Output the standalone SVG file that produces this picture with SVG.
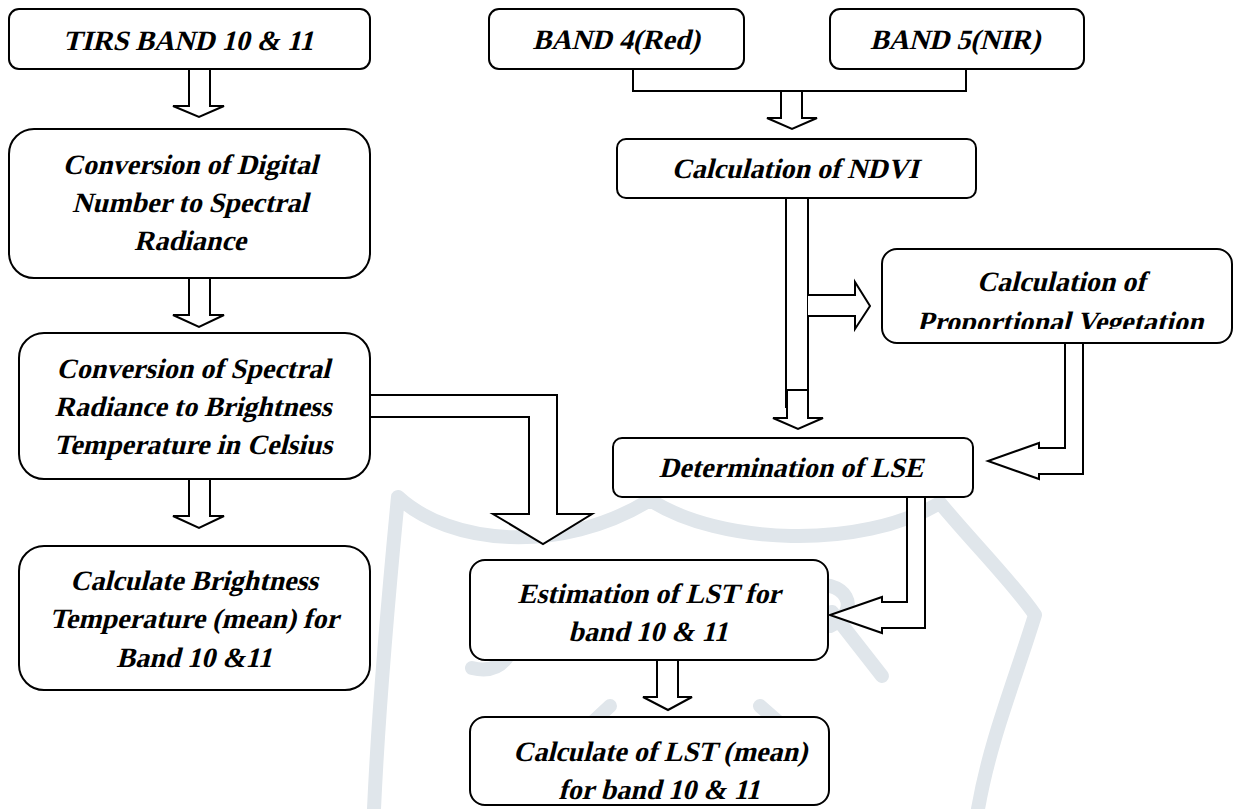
<svg xmlns="http://www.w3.org/2000/svg" width="1234" height="809" viewBox="0 0 1234 809">
<style>
.box{fill:#fff;stroke:#000;stroke-width:2}
.arr{fill:#fff;stroke:#000;stroke-width:2;stroke-linejoin:miter}
.ln{fill:none;stroke:#000;stroke-width:2}
.wm{fill:none;stroke:#e0e6eb;stroke-width:14;stroke-linecap:round;stroke-linejoin:round}
text{font-family:"Liberation Serif","Times New Roman",serif;font-weight:bold;font-style:normal;font-size:28px;text-anchor:middle;fill:#000}
</style>
<defs>
<clipPath id="pvclip"><rect x="882" y="249" width="352" height="80"/></clipPath>
</defs>
<rect width="1234" height="809" fill="#fff"/>
<g id="watermark">
<path class="wm" d="M374 809 C378 720 388 600 398 497 C450 545 560 555 650 500 C720 545 860 550 940 503 C975 545 1015 585 1035 615 C1015 680 990 740 978 809"/>
<path class="wm" d="M518 600 C520 650 505 676 472 668"/>
<path class="wm" d="M800 586 C850 576 862 612 830 626 M832 612 L882 676"/>
<path class="wm" d="M580 734 L610 706 M760 706 L792 734"/>
</g>
<g id="connectors">
<polygon class="arr" points="189,69 210,69 210,106 224,106 199,117 173,106 189,106"/>
<polygon class="arr" points="189,278 210,278 210,315 224,315 199,327 173,315 189,315"/>
<polygon class="arr" points="189,479 210,479 210,516 224,516 199,528 173,516 189,516"/>
<path class="arr" d="M370,395 L557,395 L557,514 L592,514 L543,544 L493,514 L529,514 L529,417 L370,417"/>
<path class="ln" d="M633,69 L633,91 L966,91 L966,69"/>
<polygon class="arr" points="781,91 802,91 802,118 817,118 792,129 767,118 781,118"/>
<path class="arr" d="M786,198 L786,408 M808,198 L808,390"/>
<polygon class="arr" points="787,390 808,390 808,418 823,418 798,429 773,418 787,418"/>
<path class="arr" d="M808,295 L855,295 L855,282 L870,306 L855,329 L855,316 L808,316"/>
<path class="arr" d="M1065,343 L1065,448 L1039,448 L1039,443 L988,461 L1039,479 L1039,474 L1083,474 L1083,343"/>
<path class="arr" d="M907,497 L907,602 L882,602 L882,597 L830,615 L882,633 L882,628 L925,628 L925,497"/>
<polygon class="arr" points="657,660 678,660 678,697 692,697 668,710 643,697 657,697"/>
</g>
<g id="tirs">
<rect class="box" x="9" y="9" width="361" height="60" rx="10"/>
<text transform="translate(188,50) skewX(-14)">TIRS BAND 10 &amp; 11</text>
</g>
<g id="dn">
<rect class="box" x="9" y="129" width="361" height="149" rx="25"/>
<text transform="translate(190,174) skewX(-14)">Conversion of Digital</text>
<text transform="translate(190,212) skewX(-14)">Number to Spectral</text>
<text transform="translate(190,250) skewX(-14)">Radiance</text>
</g>
<g id="sr">
<rect class="box" x="19" y="333" width="351" height="146" rx="25"/>
<text transform="translate(193,378) skewX(-14)">Conversion of Spectral</text>
<text transform="translate(193,416) skewX(-14)">Radiance to Brightness</text>
<text transform="translate(193,454) skewX(-14)">Temperature in Celsius</text>
</g>
<g id="bt">
<rect class="box" x="19" y="546" width="351" height="144" rx="25"/>
<text transform="translate(194,590) skewX(-14)">Calculate Brightness</text>
<text transform="translate(194,628) skewX(-14)">Temperature (mean) for</text>
<text transform="translate(194,667) skewX(-14)">Band 10 &amp;11</text>
</g>
<g id="band4">
<rect class="box" x="489" y="9" width="255" height="60" rx="10"/>
<text transform="translate(616,49) skewX(-14)">BAND 4(Red)</text>
</g>
<g id="band5">
<rect class="box" x="830" y="9" width="254" height="60" rx="10"/>
<text transform="translate(955,49) skewX(-14)">BAND 5(NIR)</text>
</g>
<g id="ndvi">
<rect class="box" x="617" y="139" width="359" height="59" rx="9"/>
<text transform="translate(795,178) skewX(-14)">Calculation of NDVI</text>
</g>
<g id="pv">
<rect class="box" x="882" y="249" width="350" height="94" rx="15"/>
<g clip-path="url(#pvclip)">
<text transform="translate(1061,291) skewX(-14)">Calculation of</text>
<text transform="translate(1060,331) skewX(-14)">Proportional Vegetation</text>
</g>
</g>
<g id="lse">
<rect class="box" x="613" y="438" width="360" height="59" rx="9"/>
<text transform="translate(791,477) skewX(-14)">Determination of LSE</text>
</g>
<g id="est">
<rect class="box" x="470" y="560" width="358" height="100" rx="15"/>
<text transform="translate(649,603) skewX(-14)">Estimation of LST for</text>
<text transform="translate(648,641) skewX(-14)">band 10 &amp; 11</text>
</g>
<g id="calc">
<rect class="box" x="470" y="717" width="359" height="88" rx="15"/>
<text transform="translate(660,761) skewX(-14)">Calculate of LST (mean)</text>
<text transform="translate(659,799) skewX(-14)">for band 10 &amp; 11</text>
</g>
</svg>
